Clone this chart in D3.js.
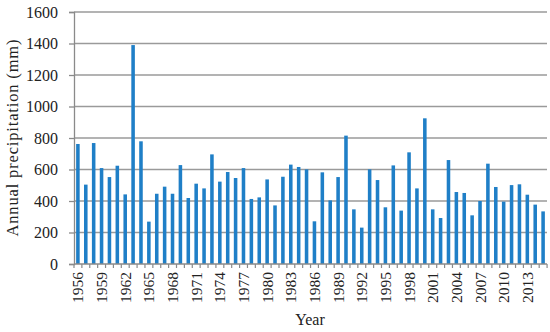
<!DOCTYPE html>
<html>
<head>
<meta charset="utf-8">
<script src="https://cdn.jsdelivr.net/npm/d3@7"></script>
<style>
  body { margin: 0; background: #fff; }
  svg text { font-family: "Liberation Serif", "Times New Roman", serif; fill: #222; }
</style>
</head>
<body>
<div id="app"></div>
<script>
var years = d3.range(1956, 2016);
var precip = [762, 504, 768, 609, 552, 624, 442, 1390, 779, 269,
              446, 491, 446, 628, 419, 510, 480, 696, 523, 584,
              546, 609, 413, 423, 537, 372, 554, 631, 616, 601,
              271, 582, 404, 552, 815, 347, 231, 601, 533, 360,
              626, 339, 709, 480, 925, 347, 292, 660, 457, 451,
              309, 400, 637, 489, 396, 501, 506, 440, 377, 334];
var yTicks = [0, 200, 400, 600, 800, 1000, 1200, 1400, 1600];
var labelYears = d3.range(1956, 2016, 3);

var width = 550, height = 332,
    plotLeft = 74, plotRight = 547, plotTop = 12, plotBottom = 264;

var svg = d3.select('#app').append('svg')
            .attr('width', width)
            .attr('height', height);

var x = d3.scaleBand()
          .domain(years)
          .range([plotLeft, plotRight])
          .paddingInner(0.55)
          .paddingOuter(0.27);

var y = d3.scaleLinear()
          .domain([0, 1600])
          .range([plotBottom, plotTop]);

// gridlines
svg.append('g')
   .selectAll('line')
   .data(yTicks.slice(1))
   .enter().append('line')
   .attr('x1', plotLeft)
   .attr('x2', plotRight)
   .attr('y1', function(d){ return y(d); })
   .attr('y2', function(d){ return y(d); })
   .style('stroke', '#9a9a9a')
   .style('stroke-width', '1.3px');

// bars
svg.append('g')
   .selectAll('rect')
   .data(years)
   .enter().append('rect')
   .attr('x', function(d){ return x(d); })
   .attr('y', function(d, i){ return y(precip[i]); })
   .attr('width', x.bandwidth())
   .attr('height', function(d, i){ return y(0) - y(precip[i]); })
   .style('fill', '#1f7fc7');

// y axis
var yAxis = svg.append('g')
   .attr('transform', 'translate(' + plotLeft + ',0)')
   .call(d3.axisLeft(y).tickValues(yTicks).tickFormat(d3.format('d')).tickSize(5).tickPadding(11));
yAxis.select('.domain').style('stroke', '#8a8a8a').style('stroke-width', '1.3px');
yAxis.selectAll('.tick line').style('stroke', '#8a8a8a').style('stroke-width', '1.3px');
yAxis.selectAll('.tick text').style('font-size', '16px');

// x axis: ticks at band boundaries
var step = x.step();
var x0 = x(years[0]) - x.paddingOuter() * step;
var boundaries = d3.range(years.length + 1).map(function(i){ return x0 + i * step; });

var xAxis = svg.append('g');
xAxis.append('line')
     .attr('x1', plotLeft).attr('x2', plotRight)
     .attr('y1', plotBottom).attr('y2', plotBottom)
     .style('stroke', '#8a8a8a').style('stroke-width', '1.3px');
xAxis.selectAll('line.tk')
     .data(boundaries)
     .enter().append('line')
     .attr('class', 'tk')
     .attr('x1', function(d){ return d; }).attr('x2', function(d){ return d; })
     .attr('y1', plotBottom).attr('y2', plotBottom + 4)
     .style('stroke', '#8a8a8a').style('stroke-width', '1.2px');
xAxis.selectAll('text')
     .data(labelYears)
     .enter().append('text')
     .attr('transform', function(d){
        return 'translate(' + (x(d) + x.bandwidth() / 2 + 5.5) + ',' + (plotBottom + 8) + ') rotate(-90)';
     })
     .attr('text-anchor', 'end')
     .style('font-size', '15.5px')
     .text(function(d){ return d; });

// axis titles
svg.append('text')
   .attr('x', 310)
   .attr('y', 325)
   .attr('text-anchor', 'middle')
   .style('font-size', '16px')
   .text('Year');

svg.append('text')
   .attr('transform', 'translate(18,' + ((plotTop + plotBottom) / 2) + ') rotate(-90)')
   .attr('text-anchor', 'middle')
   .attr('textLength', 197)
   .style('font-size', '16.5px')
   .text('Annual precipitation (mm)');
</script>
</body>
</html>
